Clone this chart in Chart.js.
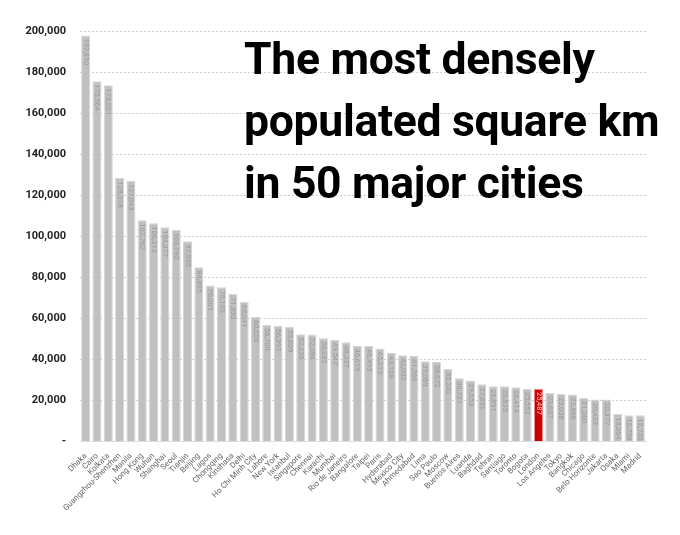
<!DOCTYPE html>
<html>
<head>
<meta charset="utf-8">
<script src="https://cdn.jsdelivr.net/npm/chart.js@4"></script>
<style>
  html, body { margin: 0; padding: 0; background: #fff; }
  #wrap { position: relative; width: 680px; height: 535px; }
  #title {
    position: absolute; left: 244px; top: 28px;
    font-family: Roboto, sans-serif; font-weight: 700; font-size: 44.5px;
    line-height: 62px; color: #000; letter-spacing: -0.3px;
  }
</style>
</head>
<body>
<div id="wrap">
  <canvas id="c" width="680" height="535"></canvas>
  <div id="title">The most densely<br>populated square km<br>in 50 major cities</div>
</div>
<script>
const cities = ["Dhaka","Cairo","Kolkata","Guangzhou-Shenzhen","Manila","Hong Kong","Wuhan","Shanghai","Seoul","Tianjin",
  "Beijing","Lagos","Chongqing","Kinshasa","Delhi","Ho Chi Minh City","Lahore","New York","Istanbul","Singapore",
  "Chennai","Karachi","Mumbai","Rio de Janeiro","Bangalore","Taipei","Paris","Hyderabad","Mexico City","Ahmedabad",
  "Lima","Sao Paulo","Moscow","Buenos Aires","Luanda","Baghdad","Tehran","Santiago","Toronto","Bogota",
  "London","Los Angeles","Tokyo","Bangkok","Chicago","Belo Horizonte","Jakarta","Osaka","Miami","Madrid"];
const density = [197810,175564,173521,128318,127043,107762,106313,104377,103190,97535,
  84805,76001,75102,71830,68041,60656,56700,56397,55809,52236,
  52084,50282,49547,48337,46619,46493,45213,43128,42002,41566,
  39069,38672,35242,30721,29653,27831,26891,26833,26414,25552,
  25487,23637,23038,22866,21260,20433,20377,13364,12738,12735];
const highlight = "London";

const colors = cities.map(c => c === highlight ? "#cc0000" : "#c0c0c0");

const valueLabels = {
  id: "valueLabels",
  afterDatasetsDraw(chart) {
    const ctx = chart.ctx;
    const meta = chart.getDatasetMeta(0);
    ctx.save();
    ctx.font = "7.5px Roboto, sans-serif";
    ctx.textBaseline = "middle";
    meta.data.forEach((bar, i) => {
      ctx.save();
      ctx.translate(bar.x, bar.y + 3);
      ctx.rotate(Math.PI / 2);
      ctx.fillStyle = cities[i] === highlight ? "#ffd0d0" : "#9a9a9a";
      ctx.textAlign = "left";
      ctx.fillText(density[i].toLocaleString("en-US"), 0, 0);
      ctx.restore();
    });
    ctx.restore();
  }
};

new Chart(document.getElementById("c"), {
  type: "bar",
  data: {
    labels: cities,
    datasets: [{
      data: density,
      backgroundColor: colors,
      borderColor: cities.map(c => c === highlight ? "#e88" : "#d6d6d6"),
      borderWidth: 1,
      categoryPercentage: 1,
      barPercentage: 0.8
    }]
  },
  options: {
    responsive: false,
    animation: false,
    layout: { padding: { top: 31, right: 34, bottom: 20, left: 8 } },
    plugins: { legend: { display: false }, tooltip: { enabled: false } },
    scales: {
      x: {
        grid: { display: false },
        border: { color: "#ddd" },
        ticks: {
          autoSkip: false, maxRotation: 45, minRotation: 45,
          color: "#666", font: { family: "Roboto", size: 8 }, padding: 2
        }
      },
      y: {
        min: 0, max: 200000,
        ticks: {
          stepSize: 20000, color: "#222", padding: 14,
          font: { family: "Roboto", size: 11, weight: "bold" },
          callback: v => v === 0 ? "-" : v.toLocaleString("en-US")
        },
        border: { display: false, dash: [2, 2] },
        grid: { color: "#cfcfcf", lineWidth: 1, drawTicks: false },
        afterFit: s => { s.width = 72; }
      }
    }
  },
  plugins: [valueLabels]
});
</script>
</body>
</html>
